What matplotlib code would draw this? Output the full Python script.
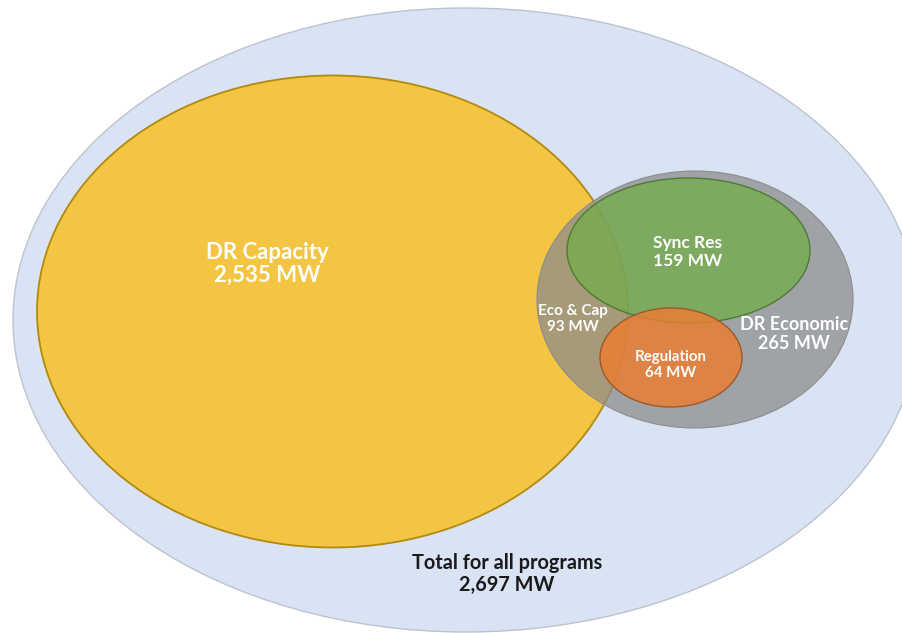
import matplotlib
matplotlib.use("Agg")
import matplotlib.pyplot as plt
from matplotlib.patches import Ellipse

# ---- data ----
programs = ["Total for all programs", "DR Capacity", "DR Economic", "Sync Res", "Regulation", "Eco & Cap"]
mw_values = [2697, 2535, 265, 159, 64, 93]

# ---- geometry (pixel space of a 903x633 canvas) ----
shapes = {
    "Total for all programs": dict(c=(466, 320), w=906, h=624, fc="#dae3f3", ec="#bcc3cf", alpha=1.0, lw=1.0),
    "DR Capacity": dict(c=(332.5, 311.5), w=591, h=472, fc="#f4c542", ec="#b08a10", alpha=1.0, lw=1.3),
    "DR Economic": dict(c=(695, 299.5), w=316, h=257, fc="#8c8c8c", ec="#8c8c8c", alpha=0.75, lw=0.8),
    "Sync Res": dict(c=(688.5, 250.5), w=243, h=145, fc="#70ad47", ec="#4f7a31", alpha=0.72, lw=1.0),
    "Regulation": dict(c=(671, 357.5), w=142, h=99, fc="#ed7d31", ec="#9a5a2a", alpha=0.82, lw=1.0),
}

label_pos = {
    "Total for all programs": ((507, 574), "#1a1a1a", 14.3),
    "DR Capacity": ((267, 264), "white", 16),
    "DR Economic": ((794, 334), "white", 13),
    "Sync Res": ((688, 252), "white", 12.5),
    "Regulation": ((671, 365), "white", 10.8),
    "Eco & Cap": ((573, 319), "white", 11),
}

fig = plt.figure(figsize=(9.03, 6.33), dpi=100)
ax = fig.add_axes([0, 0, 1, 1])
ax.set_xlim(0, 903)
ax.set_ylim(633, 0)
ax.axis("off")

for i, name in enumerate(["Total for all programs", "DR Capacity", "DR Economic", "Sync Res", "Regulation"]):
    s = shapes[name]
    ax.add_patch(Ellipse(s["c"], s["w"], s["h"], facecolor=s["fc"], edgecolor="none",
                         alpha=s["alpha"], zorder=i + 1))
    ax.add_patch(Ellipse(s["c"], s["w"], s["h"], facecolor="none", edgecolor=s["ec"],
                         lw=s["lw"], zorder=i + 1.5))

for name, val in zip(programs, mw_values):
    (x, y), col, fs = label_pos[name]
    ax.text(x, y, f"{name}\n{val:,} MW", ha="center", va="center", color=col,
            fontsize=fs, fontweight="bold", family=["Lato", "DejaVu Sans"],
            linespacing=1.12, zorder=10)

fig.savefig("out.png", dpi=100)
